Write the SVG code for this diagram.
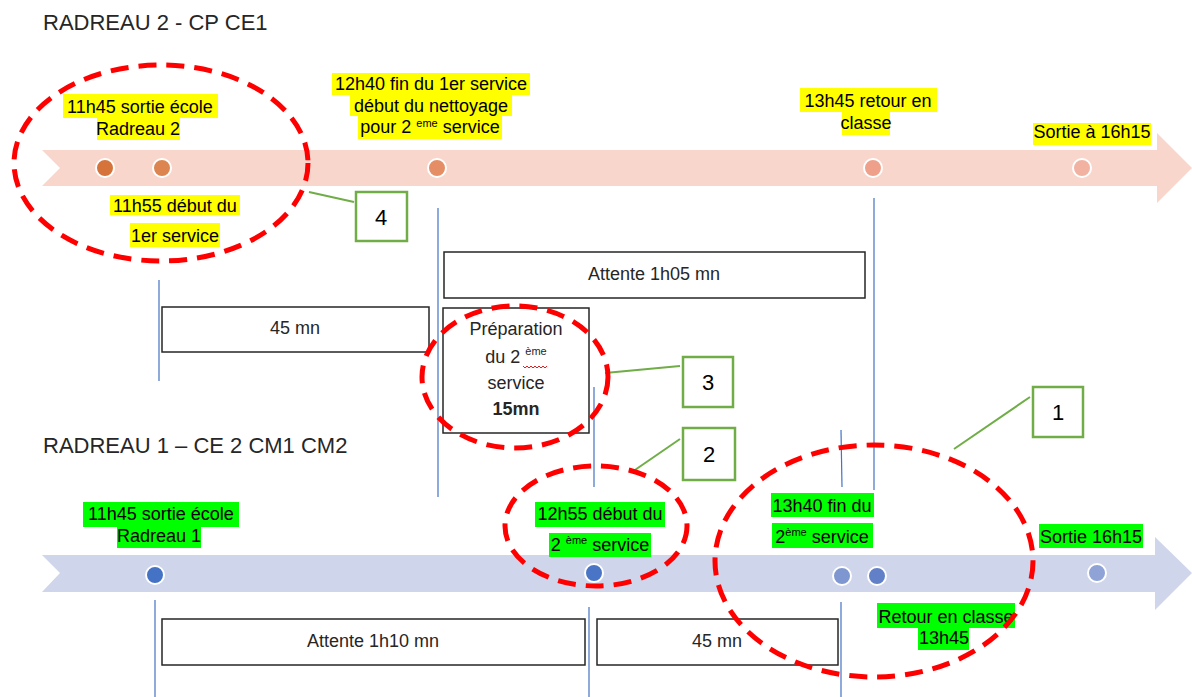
<svg xmlns="http://www.w3.org/2000/svg" width="1192" height="697" viewBox="0 0 1192 697">
<style>
text{font-family:"Liberation Sans",Arial,sans-serif;fill:#000}
.t{font-size:22px;fill:#262626}
.l{font-size:18px;text-anchor:middle}
.sup{font-size:11px}
.hy{fill:#FFFF00}
.hg{fill:#00FF00}
.box{fill:#fff;stroke:#262626;stroke-width:1.5}
.bt{font-size:18px;text-anchor:middle;fill:#262626}
.vl{stroke:#4472C4;stroke-width:1.2;fill:none}
.gl{stroke:#70AD47;stroke-width:2;fill:none}
.gb{fill:#fff;stroke:#70AD47;stroke-width:2.5}
.num{font-size:22px;text-anchor:middle;fill:#000}
.red{fill:none;stroke:#FF0000;stroke-width:5;stroke-dasharray:18 10}
.dot{stroke:#fff;stroke-width:2}
</style>
<rect width="1192" height="697" fill="#fff"/>

<g id="title-top"><text class="t" x="43" y="30">RADREAU 2 - CP CE1</text></g>
<g id="title-bottom"><text class="t" x="43" y="453">RADREAU 1 – CE 2 CM1 CM2</text></g>

<g id="arrow-top"><polygon points="42,150 1157,150 1157,133 1192,168 1157,203 1157,186 42,186 60,168" fill="#F8D6CC"/></g>
<g id="arrow-bottom"><polygon points="42,555 1155,555 1155,537 1192,573 1155,610 1155,592 42,592 60,573" fill="#CFD5EA"/></g>

<g id="connectors">
<line class="vl" x1="159" y1="280" x2="159" y2="381"/>
<line class="vl" x1="438" y1="208" x2="438" y2="497"/>
<line class="vl" x1="874" y1="198" x2="874" y2="490"/>
<line class="vl" x1="594" y1="387" x2="594" y2="487"/>
<line class="vl" x1="841" y1="430" x2="842" y2="487"/>
<line class="vl" x1="155" y1="600" x2="155" y2="697"/>
<line class="vl" x1="589" y1="607" x2="589" y2="697"/>
<line class="vl" x1="841" y1="602" x2="841" y2="697"/>
<line class="gl" x1="309" y1="192" x2="354" y2="202"/>
<line class="gl" x1="605" y1="373" x2="680" y2="366"/>
<line class="gl" x1="632" y1="472" x2="680" y2="439"/>
<line class="gl" x1="954" y1="449" x2="1030" y2="397"/>
</g>

<g id="dots-top">
<circle class="dot" cx="105" cy="168" r="9" fill="#D6733A"/>
<circle class="dot" cx="162" cy="168" r="9" fill="#DD8550"/>
<circle class="dot" cx="437" cy="168" r="9" fill="#E58E66"/>
<circle class="dot" cx="873" cy="168" r="9" fill="#EFA08A"/>
<circle class="dot" cx="1082" cy="168" r="9" fill="#F1B2A2"/>
</g>
<g id="dots-bottom">
<circle class="dot" cx="155" cy="575" r="9" fill="#4472C4"/>
<circle class="dot" cx="594" cy="573" r="9" fill="#4A75C6"/>
<circle class="dot" cx="842" cy="576" r="9" fill="#7F97D0"/>
<circle class="dot" cx="877" cy="576" r="9" fill="#6180C8"/>
<circle class="dot" cx="1097" cy="573" r="9" fill="#8FA3D6"/>
</g>

<g id="lbl-1145-r2">
<rect class="hy" x="63" y="94" width="155" height="24"/>
<rect class="hy" x="97" y="118" width="83" height="22"/>
<text class="l" x="140" y="113">11h45 sortie école</text>
<text class="l" x="138" y="135">Radreau 2</text>
</g>
<g id="lbl-1155">
<rect class="hy" x="110" y="195" width="130" height="20"/>
<rect class="hy" x="130" y="223" width="90" height="24"/>
<text class="l" x="175" y="212">11h55 début du</text>
<text class="l" x="175" y="242">1er service</text>
</g>
<g id="lbl-1240">
<rect class="hy" x="332" y="73" width="198" height="22"/>
<rect class="hy" x="350" y="95" width="162" height="21"/>
<rect class="hy" x="358" y="116" width="144" height="23"/>
<text class="l" x="431" y="90">12h40 fin du 1er service</text>
<text class="l" x="431" y="112">début du nettoyage</text>
<text class="l" x="430" y="133">pour 2 <tspan class="sup" dy="-6">eme</tspan><tspan dy="6"> service</tspan></text>
</g>
<g id="lbl-1345">
<rect class="hy" x="800" y="88" width="137" height="24"/>
<rect class="hy" x="842" y="112" width="48" height="23"/>
<text class="l" x="868" y="107">13h45 retour en</text>
<text class="l" x="866" y="129">classe</text>
</g>
<g id="lbl-sortie-top">
<rect class="hy" x="1033" y="123" width="118" height="22"/>
<text class="l" x="1092" y="138">Sortie à 16h15</text>
</g>

<g id="box-45-top">
<rect class="box" x="162" y="307" width="267" height="45"/>
<text class="bt" x="295" y="334">45 mn</text>
</g>
<g id="box-attente-1h05">
<rect class="box" x="444" y="252" width="421" height="46"/>
<text class="bt" x="654" y="280">Attente 1h05 mn</text>
</g>
<g id="box-preparation">
<rect class="box" x="443" y="308" width="146" height="125"/>
<text class="bt" x="516" y="335">Préparation</text>
<text class="bt" x="516" y="363">du 2 <tspan class="sup" dy="-8">ème</tspan><tspan dy="8"></tspan></text>
<path d="M523,366 l2,2 l2,-2 l2,2 l2,-2 l2,2 l2,-2 l2,2 l2,-2 l2,2 l2,-2 l2,2 l2,-2" fill="none" stroke="#E02020" stroke-width="1"/>
<text class="bt" x="516" y="389">service</text>
<text class="bt" x="516" y="415" font-weight="bold">15mn</text>
</g>

<g id="lbl-1145-r1">
<rect class="hg" x="83" y="502" width="156" height="25"/>
<rect class="hg" x="117" y="527" width="84" height="21"/>
<text class="l" x="161" y="520">11h45 sortie école</text>
<text class="l" x="159" y="542">Radreau 1</text>
</g>
<g id="lbl-1255">
<rect class="hg" x="535" y="502" width="130" height="25"/>
<rect class="hg" x="549" y="533" width="102" height="24"/>
<text class="l" x="600" y="520">12h55 début du</text>
<text class="l" x="600" y="551">2 <tspan class="sup" dy="-7">ème</tspan><tspan dy="7"> service</tspan></text>
</g>
<g id="lbl-1340">
<rect class="hg" x="771" y="493" width="103" height="24"/>
<rect class="hg" x="772" y="523" width="101" height="25"/>
<text class="l" x="822" y="512">13h40 fin du</text>
<text class="l" x="822" y="543">2<tspan class="sup" dy="-7">ème</tspan><tspan dy="7"> service</tspan></text>
</g>
<g id="lbl-sortie-bottom">
<rect class="hg" x="1039" y="524" width="104" height="24"/>
<text class="l" x="1091" y="543">Sortie 16h15</text>
</g>
<g id="lbl-retour">
<rect class="hg" x="877" y="603" width="138" height="25"/>
<rect class="hg" x="918" y="628" width="51" height="22"/>
<text class="l" x="946" y="623">Retour en classe</text>
<text class="l" x="944" y="644">13h45</text>
</g>

<g id="box-attente-1h10">
<rect class="box" x="162" y="619" width="423" height="46"/>
<text class="bt" x="373" y="647">Attente 1h10 mn</text>
</g>
<g id="box-45-bottom">
<rect class="box" x="597" y="619" width="241" height="46"/>
<text class="bt" x="717" y="647">45 mn</text>
</g>

<g id="ellipse-4"><ellipse class="red" cx="161" cy="163" rx="147" ry="98"/></g>
<g id="ellipse-3"><ellipse class="red" cx="515" cy="377" rx="93" ry="71"/></g>
<g id="ellipse-2"><ellipse class="red" cx="596" cy="526" rx="91" ry="60"/></g>
<g id="ellipse-1"><ellipse class="red" cx="874" cy="561" rx="159" ry="116"/></g>

<g id="callout-4"><rect class="gb" x="356" y="192" width="51" height="49"/><text class="num" x="381" y="225">4</text></g>
<g id="callout-3"><rect class="gb" x="683" y="357" width="50" height="50"/><text class="num" x="708" y="390">3</text></g>
<g id="callout-2"><rect class="gb" x="683" y="428" width="52" height="52"/><text class="num" x="709" y="462">2</text></g>
<g id="callout-1"><rect class="gb" x="1033" y="387" width="50" height="50"/><text class="num" x="1058" y="420">1</text></g>
</svg>
